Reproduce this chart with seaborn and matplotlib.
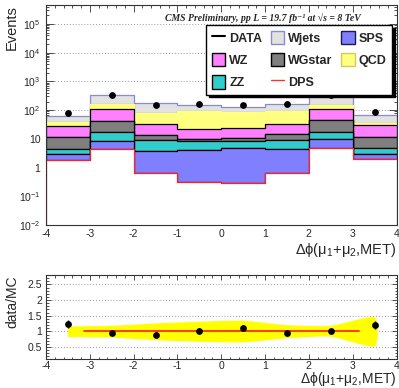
import numpy as np
import pandas as pd
import matplotlib
matplotlib.use("Agg")
import matplotlib.pyplot as plt
import seaborn as sns
from matplotlib.patches import Patch
from matplotlib.lines import Line2D
from matplotlib.ticker import FixedLocator, FixedFormatter, MultipleLocator, NullFormatter

# ---------------- data ----------------
bin_edges = [-4, -3, -2, -1, 0, 1, 2, 3, 4]
bin_centers = [-3.5, -2.5, -1.5, -0.5, 0.5, 1.5, 2.5, 3.5]

wjets  = [24.0, 178.0, 94.0, 57.0, 43.0, 70.0, 184.0, 32.0]
qcd    = [11.0, 51.0, 44.0, 69.0, 64.0, 58.0, 41.0, 7.0]
wz     = [16.8, 69.0, 19.8, 13.2, 12.6, 19.4, 63.0, 18.8]
wgstar = [6.7, 25.2, 4.15, 1.0, 1.8, 5.55, 27.4, 6.4]
zz     = [1.55, 8.2, 5.21, 4.7, 3.95, 4.65, 8.0, 1.85]
sps    = [1.13, 4.2, 3.21, 3.74, 4.37, 3.77, 4.95, 0.93]
dps    = [1.82, 4.4, 0.63, 0.32, 0.28, 0.63, 4.65, 2.02]

data_counts = [77.0, 333.0, 149.0, 158.0, 146.0, 158.0, 340.0, 83.0]

ratio     = [1.235, 0.945, 0.89, 1.02, 1.12, 0.945, 1.02, 1.215]
ratio_err = [0.14, 0.06, 0.08, 0.08, 0.09, 0.08, 0.06, 0.13]
band_hi   = [1.16, 1.18, 1.255, 1.31, 1.34, 1.20, 1.18, 1.45]
band_lo   = [0.82, 0.80, 0.72, 0.67, 0.65, 0.78, 0.83, 0.52]
fit_range = [-3.14, 3.14]
fit_value = 1.0

procs = ["Wjets", "QCD", "WZ", "WGstar", "ZZ", "SPS", "DPS"]
series = [wjets, qcd, wz, wgstar, zz, sps, dps]

# ---------------- style ----------------
fill_colors = {"Wjets": "#e2e2e2", "QCD": "#ffff80", "WZ": "#ff80ff",
               "WGstar": "#7f7f7f", "ZZ": "#33cccc", "SPS": "#7f7fff",
               "DPS": "#ffffff"}
edge_colors = {"Wjets": "#8a8ad0", "QCD": "#ffff80", "WZ": "#000000",
               "WGstar": "#000000", "ZZ": "#000000", "SPS": "#000000",
               "DPS": "#ff2020"}

sns.set_style("ticks")
plt.rcParams["font.family"] = ["Liberation Sans", "DejaVu Sans"]
plt.rcParams["mathtext.fontset"] = "custom"
plt.rcParams["mathtext.rm"] = "Liberation Sans"
plt.rcParams["mathtext.it"] = "Liberation Sans:italic"
plt.rcParams["mathtext.bf"] = "Liberation Sans:bold"
plt.rcParams["mathtext.default"] = "regular"
plt.rcParams["axes.unicode_minus"] = False

W, H = 399, 388
fig = plt.figure(figsize=(W / 100, H / 100), dpi=100)
ax = fig.add_axes([46 / W, 1 - 225 / H, 350.5 / W, 220 / H])
ax2 = fig.add_axes([46 / W, 1 - 359 / H, 350.5 / W, 84 / H])

df = pd.DataFrame({
    "x": np.tile(bin_centers, len(procs)),
    "w": np.concatenate([np.asarray(s, float) for s in series]),
    "proc": np.repeat(procs, len(bin_centers)),
})

ax.set_yscale("log")
sns.histplot(data=df, x="x", weights="w", hue="proc", hue_order=procs,
             multiple="stack", bins=bin_edges, element="step", fill=True,
             palette=fill_colors, alpha=1, linewidth=0.9, edgecolor="black",
             legend=False, ax=ax)

for coll in ax.collections:
    fc = coll.get_facecolor()
    if len(fc) == 0:
        continue
    fc = fc[0][:3]
    for i, p in enumerate(procs):
        if np.allclose(fc, matplotlib.colors.to_rgb(fill_colors[p]), atol=0.01):
            coll.set_edgecolor(edge_colors[p])
            coll.set_zorder(1 + 0.1 * i)
            break

sns.scatterplot(x=bin_centers, y=data_counts, color="black", s=24,
                linewidth=0, zorder=5, ax=ax)

ax.set_xlim(-4, 4)
ax.set_ylim(1e-2, 4.6e5)
ax.set_axisbelow(True)
ax.yaxis.grid(True, which="major", linestyle=(0, (1, 2)), color="#9a9a9a", lw=0.7)
ax.xaxis.grid(False)

ymaj = [1e-2, 1e-1, 1, 10, 1e2, 1e3, 1e4, 1e5]
ylab = [r"$10^{-2}$", r"$10^{-1}$", "1", "10", r"$10^{2}$", r"$10^{3}$", r"$10^{4}$", r"$10^{5}$"]
ax.yaxis.set_major_locator(FixedLocator(ymaj))
ax.yaxis.set_major_formatter(FixedFormatter(ylab))
yminor = [m * 10.0 ** e for e in range(-2, 6) for m in range(2, 10)]
ax.yaxis.set_minor_locator(FixedLocator(yminor))
ax.yaxis.set_minor_formatter(NullFormatter())
ax.xaxis.set_major_locator(MultipleLocator(1))
ax.xaxis.set_minor_locator(MultipleLocator(0.2))

for a in (ax, ax2):
    a.tick_params(which="both", direction="in", top=True, right=True,
                  labelsize=7.5, width=0.6, color="#333333")
    a.tick_params(which="major", length=5, pad=3)
    a.tick_params(which="minor", length=2.5)
    for s in a.spines.values():
        s.set_linewidth(0.8)
        s.set_color("#333333")
ax.tick_params(axis="y", which="major", length=6, pad=4)

xlab = r"$\Delta\phi(\mu_{1}{+}\mu_{2}{,}MET)$"
ax.set_xlabel(xlab, loc="right", fontsize=10.5, labelpad=1)
ax.set_ylabel("Events", loc="top", fontsize=10.5)
ax.yaxis.set_label_coords(-27 / 350.5, 1.0)

fig.text(165 / W, 1 - 17.5 / H,
         "CMS Preliminary, pp L = 19.7 fb\u207b\u00b9 at \u221as = 8 TeV",
         family=["Liberation Serif", "DejaVu Serif"], style="italic",
         weight="bold", fontsize=7, va="center", ha="left")

handles = [
    Line2D([], [], color="black", lw=1.5),
    Patch(facecolor=fill_colors["WZ"], edgecolor="black", lw=1),
    Patch(facecolor=fill_colors["ZZ"], edgecolor="black", lw=1),
    Patch(facecolor=fill_colors["Wjets"], edgecolor="#8a8ad0", lw=1),
    Patch(facecolor=fill_colors["WGstar"], edgecolor="black", lw=1),
    Line2D([], [], color="#ff3030", lw=1),
    Patch(facecolor=fill_colors["SPS"], edgecolor="#1a1a4d", lw=1),
    Patch(facecolor=fill_colors["QCD"], edgecolor="#cccc66", lw=1),
]
labels = ["DATA", "WZ", "ZZ", "Wjets", "WGstar", "DPS", "SPS", "QCD"]
leg = ax.legend(handles, labels, ncol=3, loc="upper left",
                bbox_to_anchor=(206 / W, 1 - 92 / H, 186 / W, 67 / H),
                bbox_transform=fig.transFigure, mode="expand",
                prop={"family": "Liberation Sans", "weight": "bold", "size": 9},
                frameon=True, fancybox=False, edgecolor="black", framealpha=1,
                borderpad=0.45, labelspacing=0.65, handlelength=1.1,
                handleheight=1.3, handletextpad=0.3, columnspacing=0.6,
                borderaxespad=0, shadow={"color": "black", "alpha": 1.0})
leg.get_frame().set_linewidth(1.0)
leg.set_zorder(10)

# ---------------- ratio panel ----------------
def cardinal_spline(pts, tension=0.4, n=24):
    pts = np.asarray(pts, float)
    P = np.vstack([pts[0], pts, pts[-1]])
    s = 1.0 - tension
    out = []
    t = np.linspace(0, 1, n, endpoint=False)[:, None]
    h00 = 2 * t ** 3 - 3 * t ** 2 + 1
    h10 = t ** 3 - 2 * t ** 2 + t
    h01 = -2 * t ** 3 + 3 * t ** 2
    h11 = t ** 3 - t ** 2
    for i in range(1, len(P) - 2):
        p0, p1, p2, p3 = P[i - 1], P[i], P[i + 1], P[i + 2]
        m1 = s * (p2 - p0) / 2
        m2 = s * (p3 - p1) / 2
        out.append(h00 * p1 + h10 * m1 + h01 * p2 + h11 * m2)
    out.append(P[-2][None])
    return np.vstack(out)

upper = list(zip(bin_centers, band_hi))
lower = list(zip(bin_centers[::-1], band_lo[::-1]))
curve = cardinal_spline(upper + lower)
ax2.fill(curve[:, 0], curve[:, 1], color="#ffff00", lw=0, zorder=1)

sns.lineplot(x=fit_range, y=[fit_value, fit_value], color="#ff2a00", lw=1.3,
             ax=ax2, zorder=2)
ax2.errorbar(bin_centers, ratio, yerr=ratio_err, fmt="none", ecolor="black",
             elinewidth=1, zorder=3)
sns.scatterplot(x=bin_centers, y=ratio, color="black", s=24, linewidth=0,
                zorder=4, ax=ax2)

ax2.set_xlim(-4, 4)
ax2.set_ylim(0.12, 2.8)
ax2.set_axisbelow(True)
ax2.yaxis.set_major_locator(FixedLocator([0.5, 1.0, 1.5, 2.0, 2.5]))
ax2.yaxis.set_major_formatter(FixedFormatter(["0.5", "1", "1.5", "2", "2.5"]))
ax2.yaxis.set_minor_locator(MultipleLocator(0.1))
ax2.xaxis.set_major_locator(MultipleLocator(1))
ax2.xaxis.set_minor_locator(MultipleLocator(0.2))
ax2.yaxis.grid(True, which="major", linestyle=(0, (1, 2)), color="#9a9a9a", lw=0.7)
ax2.xaxis.grid(False)
ax2.tick_params(which="major", length=3.5)
ax2.tick_params(which="minor", length=1.8)
ax2.tick_params(axis="x", which="major", pad=1.5)
ax2.set_xlabel(xlab, loc="right", fontsize=10, labelpad=-0.5)
ax2.set_ylabel("data/MC", loc="top", fontsize=10)
ax2.yaxis.set_label_coords(-27 / 350.5, 1.0)

fig.savefig("out.png", dpi=100)
